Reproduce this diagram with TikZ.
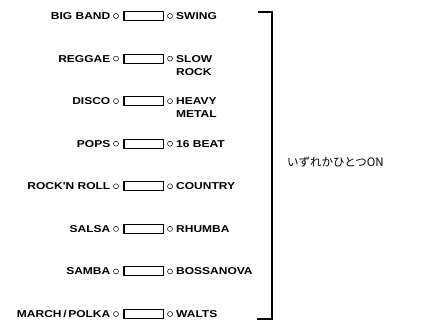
\documentclass[tikz,border=0pt]{standalone}
\usepackage{fontspec}
\newfontfamily\lbl{Liberation Sans}[FakeStretch=1.2]
\newfontfamily\jpfont{Noto Sans CJK JP}
\begin{document}
\begin{tikzpicture}[x=1pt,y=-1pt,
  lab/.style={inner sep=0pt,font={\lbl\bfseries\fontsize{10}{13}\selectfont}},
  led/.style={circle,draw,line width=0.5pt,minimum size=5pt,inner sep=0pt},
  keybox/.style={draw,line width=1.1pt,minimum width=39pt,minimum height=9pt,inner sep=0pt},
  brk/.style={line width=1.8pt}]
\useasboundingbox (0,0) rectangle (430,322);
\foreach \i/\y/\n/\l/\r in {1/16/0/{BIG BAND}/{SWING},
  2/58.6/1/{REGGAE}/{SLOW\\ROCK},
  3/101.1/1/{DISCO}/{HEAVY\\METAL},
  4/143.7/0/{POPS}/{16 BEAT},
  5/186.3/0/{ROCK'N ROLL}/{COUNTRY},
  6/228.9/0/{SALSA}/{RHUMBA},
  7/271.4/0/{SAMBA}/{BOSSANOVA},
  8/314/0/{MARCH\,/\,POLKA}/{WALTS}}{
  \node[keybox] (k\i) at (144,\y) {};
  \draw[line width=1.7pt] (k\i.north west) -- (k\i.south west);
  \node[led] (a\i) at (116,\y) {};
  \node[led] (b\i) at (170,\y) {};
  \node[lab,anchor=base east] (l\i) at (110.5,\y+3.5) {\l};
  \node[lab,anchor=base west,align=left] (r\i) at (176,\y+3.5+13*\n) {\r};
}
\coordinate (t0) at (258,12);
\coordinate (t1) at (272,12);
\coordinate (b1) at (272,319);
\coordinate (b0) at (257,319);
\draw[brk] (t0) -- (t1) -- (b1) -- (b0);
\node[inner sep=0pt,anchor=west,font={\jpfont\fontsize{11.5}{13}\selectfont}] (jp) at (287,162) {いずれかひとつON};
\end{tikzpicture}
\end{document}
